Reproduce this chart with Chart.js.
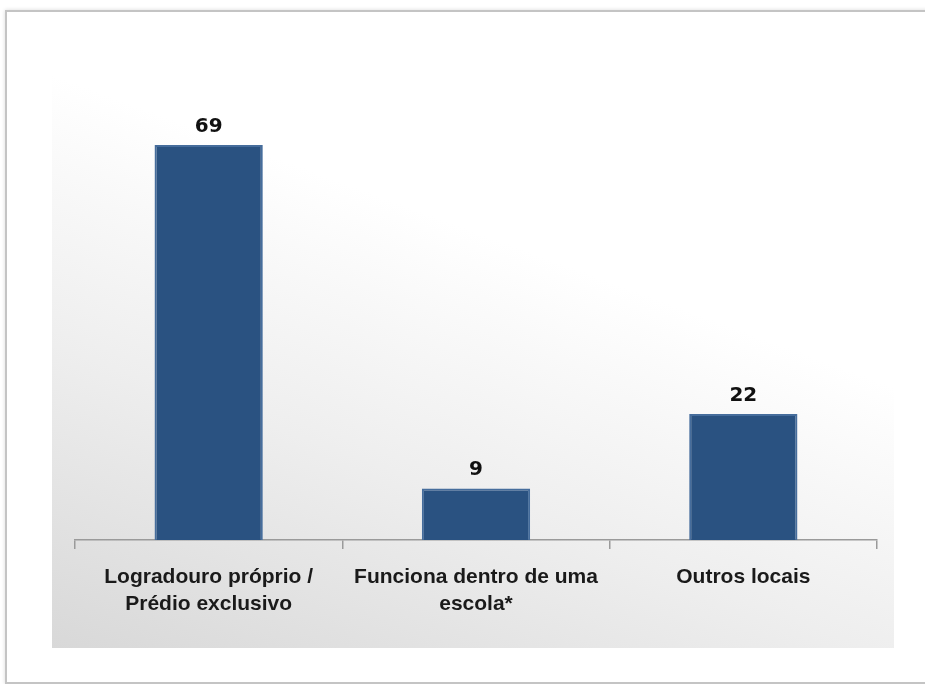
<!DOCTYPE html>
<html>
<head>
<meta charset="utf-8">
<script src="https://cdn.jsdelivr.net/npm/chart.js@4"></script>
<style>
  html, body { margin: 0; padding: 0; background: #fff; overflow: hidden; }
  #frame {
    position: absolute; left: 5px; top: 10px; width: 940px; height: 670px;
    border: 2px solid #c4c4c4; box-shadow: 0 0 4px rgba(0,0,0,0.15);
  }
  #wrap { position: absolute; left: 0; top: 0; width: 925px; height: 684px; }
</style>
</head>
<body>
<div id="frame"></div>
<div id="wrap"><canvas id="chartCanvas" width="925" height="684"></canvas></div>
<script>
const categories = [
  ["Logradouro próprio /", "Prédio exclusivo"],
  ["Funciona dentro de uma", "escola*"],
  ["Outros locais"]
];
const values = [69, 9, 22];

// grey-to-white panel behind the plot
const panelBg = {
  id: "panelBg",
  beforeDraw(chart) {
    const { ctx, chartArea } = chart;
    const x0 = chartArea.left - 23, x1 = chartArea.right + 17;
    const y0 = 55, y1 = 648;
    const g = ctx.createLinearGradient(x0, y1, x0 + 220, y0);
    g.addColorStop(0, "#d8d8d8");
    g.addColorStop(0.45, "#eeeeee");
    g.addColorStop(0.85, "#ffffff");
    g.addColorStop(1, "#ffffff");
    ctx.save();
    ctx.fillStyle = g;
    ctx.fillRect(x0, y0, x1 - x0, y1 - y0);
    ctx.restore();
  }
};

// value on top of each bar
const valueLabels = {
  id: "valueLabels",
  afterDatasetsDraw(chart) {
    const { ctx } = chart;
    const meta = chart.getDatasetMeta(0);
    ctx.save();
    ctx.font = "bold 20px 'DejaVu Sans', sans-serif";
    ctx.fillStyle = "#111";
    ctx.textAlign = "center";
    ctx.textBaseline = "alphabetic";
    meta.data.forEach((bar, i) => {
      ctx.fillText(String(values[i]), bar.x, bar.y - 13);
    });
    ctx.restore();
  }
};

const ctx = document.getElementById("chartCanvas").getContext("2d");
new Chart(ctx, {
  type: "bar",
  data: {
    labels: categories,
    datasets: [{
      data: values,
      backgroundColor: "#2a5281",
      borderColor: "#466d9c",
      borderWidth: 2,
      borderSkipped: "bottom",
      categoryPercentage: 1,
      barPercentage: 0.405
    }]
  },
  options: {
    responsive: false,
    animation: false,
    layout: { padding: { left: 75, right: 48, top: 82, bottom: 0 } },
    plugins: { legend: { display: false }, tooltip: { enabled: false } },
    scales: {
      y: { display: false, min: 0, max: 80 },
      x: {
        afterFit(scale) { scale.height = 144; },
        border: { display: true, color: "#9a9a9a", width: 1.5 },
        grid: { drawOnChartArea: false, offset: true, tickLength: 9, color: "#9a9a9a", lineWidth: 1.5 },
        ticks: {
          color: "#1a1a1a",
          padding: 15,
          maxRotation: 0,
          font: { family: "'Liberation Sans', Arial, sans-serif", size: 21, weight: "bold", lineHeight: 1.28 }
        }
      }
    }
  },
  plugins: [panelBg, valueLabels]
});
</script>
</body>
</html>
